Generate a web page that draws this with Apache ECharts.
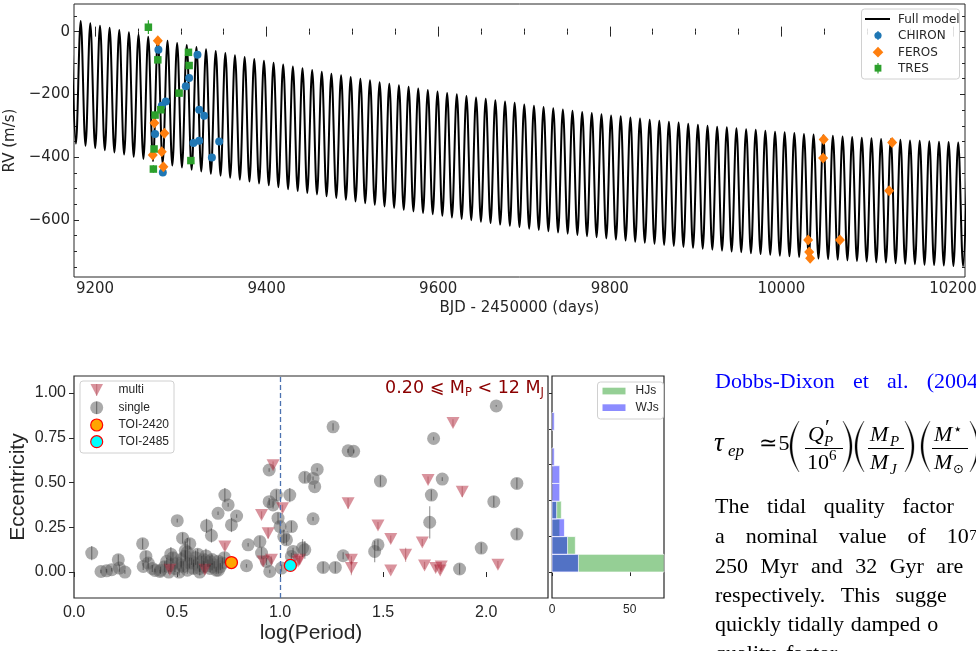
<!DOCTYPE html>
<html><head><meta charset="utf-8">
<script src="https://cdn.jsdelivr.net/npm/echarts@6/dist/echarts.min.js"></script>
<style>html,body{margin:0;padding:0;background:#fff;overflow:hidden}#c{width:976px;height:651px}</style>
</head><body><div id="c"></div>
<script>
// ---------- RV time series (BJD - 2450000, m/s) ----------
const chironT  = [9273.9, 9319.4, 9309.7, 9305.8, 9282.5, 9277.8, 9321.4, 9327.2, 9270.0, 9314.7, 9321.4, 9344.7, 9336.2, 9279.0];
const chironRV = [-58, -74, -148, -174, -223, -236, -249, -268, -326, -355, -348, -350, -401, -449];
const chironErr = [8, 8, 8, 8, 8, 8, 8, 8, 8, 8, 8, 8, 8, 8];
const ferosT  = [9273.2, 9269.2, 9280.9, 9277.8, 9267.3, 9279.7, 10049.3, 10048.6, 10129.1, 10125.6, 10031.2, 10068.2, 10032.4, 10033.5];
const ferosRV = [-29, -291, -324, -383, -393, -431, -344, -403, -353, -507, -664, -664, -702, -722];
const ferosErr = [6, 6, 6, 6, 6, 6, 6, 6, 6, 6, 6, 6, 6, 6];
const tresT  = [9262.2, 9273.2, 9308.9, 9309.7, 9298.0, 9276.7, 9270.0, 9268.8, 9311.7, 9268.0];
const tresRV = [14, -90, -66, -108, -196, -249, -266, -374, -411, -438];
const tresErr = [22, 10, 10, 10, 10, 10, 10, 10, 10, 12];

// Full model: successive maxima and minima of the RV curve (time, RV)
const modelT = [
  9172.1, 9177.7, 9183.3, 9188.9, 9194.5, 9200.2, 9205.8, 9211.4, 9217.0, 9222.6,
  9228.3, 9233.9, 9239.5, 9245.1, 9250.7, 9256.4, 9262.0, 9267.6, 9273.2, 9278.8,
  9284.5, 9290.1, 9295.7, 9301.3, 9306.9, 9312.6, 9318.2, 9323.8, 9329.4, 9335.0,
  9340.7, 9346.3, 9351.9, 9357.5, 9363.1, 9368.8, 9374.4, 9380.0, 9385.6, 9391.2,
  9396.9, 9402.5, 9408.1, 9413.7, 9419.3, 9425.0, 9430.6, 9436.2, 9441.8, 9447.4,
  9453.1, 9458.7, 9464.3, 9469.9, 9475.5, 9481.2, 9486.8, 9492.4, 9498.0, 9503.6,
  9509.3, 9514.9, 9520.5, 9526.1, 9531.7, 9537.4, 9543.0, 9548.6, 9554.2, 9559.8,
  9565.5, 9571.1, 9576.7, 9582.3, 9587.9, 9593.6, 9599.2, 9604.8, 9610.4, 9616.0,
  9621.7, 9627.3, 9632.9, 9638.5, 9644.1, 9649.8, 9655.4, 9661.0, 9666.6, 9672.2,
  9677.9, 9683.5, 9689.1, 9694.7, 9700.3, 9706.0, 9711.6, 9717.2, 9722.8, 9728.4,
  9734.1, 9739.7, 9745.3, 9750.9, 9756.5, 9762.2, 9767.8, 9773.4, 9779.0, 9784.6,
  9790.3, 9795.9, 9801.5, 9807.1, 9812.7, 9818.4, 9824.0, 9829.6, 9835.2, 9840.8,
  9846.5, 9852.1, 9857.7, 9863.3, 9868.9, 9874.6, 9880.2, 9885.8, 9891.4, 9897.0,
  9902.7, 9908.3, 9913.9, 9919.5, 9925.1, 9930.8, 9936.4, 9942.0, 9947.6, 9953.2,
  9958.9, 9964.5, 9970.1, 9975.7, 9981.3, 9987.0, 9992.6, 9998.2, 10003.8, 10009.4,
  10015.1, 10020.7, 10026.3, 10031.9, 10037.5, 10043.2, 10048.8, 10054.4, 10060.0, 10065.6,
  10071.3, 10076.9, 10082.5, 10088.1, 10093.7, 10099.4, 10105.0, 10110.6, 10116.2, 10121.8,
  10127.5, 10133.1, 10138.7, 10144.3, 10149.9, 10155.6, 10161.2, 10166.8, 10172.4, 10178.0,
  10183.7, 10189.3, 10194.9, 10200.5, 10206.1, 10211.8, 10217.4];
const modelRV = [
  41, -357, 34, -364, 27, -371, 19, -378, 12, -385,
  5, -392, -2, -399, -9, -406, -16, -413, -23, -420,
  -29, -427, -36, -433, -43, -440, -49, -446, -56, -453,
  -62, -459, -68, -466, -75, -472, -81, -478, -87, -484,
  -93, -490, -99, -496, -105, -502, -111, -508, -117, -514,
  -122, -519, -128, -525, -134, -530, -139, -536, -145, -541,
  -150, -547, -155, -552, -161, -557, -166, -562, -171, -568,
  -176, -573, -181, -578, -186, -582, -191, -587, -196, -592,
  -200, -597, -205, -601, -210, -606, -214, -610, -219, -615,
  -223, -619, -227, -623, -232, -628, -236, -632, -240, -636,
  -244, -640, -248, -644, -252, -648, -256, -652, -259, -655,
  -263, -659, -267, -663, -270, -666, -274, -670, -277, -673,
  -281, -676, -284, -680, -287, -683, -290, -686, -294, -689,
  -297, -692, -300, -695, -303, -698, -305, -701, -308, -703,
  -311, -706, -313, -709, -316, -711, -319, -714, -321, -716,
  -323, -718, -326, -721, -328, -723, -330, -725, -332, -727,
  -334, -729, -336, -731, -338, -733, -340, -735, -342, -736,
  -343, -738, -345, -740, -347, -741, -348, -743, -349, -744,
  -351, -745, -352, -747, -353, -748, -354];

// ---------- eccentricity vs log(period) ----------
const singleLogP = [0.086,0.131,0.158,0.183,0.215,0.220,0.247,0.333,0.349,0.336,0.393,0.417,0.501,0.527,0.562,0.643,0.667,0.699,0.732,0.748,0.764,0.789,0.845,0.837,0.902,0.910,0.947,0.947,0.966,0.982,0.990,1.000,1.018,1.031,1.047,1.055,1.063,1.120,1.160,1.160,0.950,1.007,0.934,
  2.049,1.257,1.330,1.357,1.745,1.180,1.120,1.168,1.487,1.787,1.734,2.149,2.037,1.726,2.149,1.109,1.475,1.459,1.306,1.976,1.209,1.268,1.871,1.055,
  0.42,0.44,0.45,0.46,0.47,0.48,0.49,0.50,0.51,0.52,0.53,0.54,0.55,0.56,0.57,0.58,0.59,0.60,0.61,0.62,0.63,0.64,0.65,0.66,0.67,0.68,0.69,0.70,0.71,0.72,0.73,0.47,0.55,0.60,0.54,0.58,0.63,0.67,0.38,0.36,0.52,0.61,0.66,0.70];
const singleEcc = [0.106,0.003,0.007,0.013,0.068,0.022,0.000,0.158,0.087,0.031,0.009,0.003,0.287,0.189,0.158,0.258,0.204,0.328,0.430,0.375,0.263,0.313,0.152,0.035,0.170,0.106,0.570,0.393,0.375,0.430,0.301,0.254,0.198,0.180,0.430,0.254,0.115,0.124,0.523,0.297,0.003,0.022,0.059,
  0.928,0.811,0.677,0.674,0.746,0.573,0.529,0.477,0.508,0.519,0.430,0.495,0.393,0.278,0.212,0.134,0.152,0.115,0.091,0.134,0.026,0.026,0.017,0.087,
  0.01,0.03,0.06,0.00,0.04,0.08,0.02,0.05,0.00,0.07,0.03,0.09,0.01,0.05,0.06,0.02,0.08,0.04,0.00,0.06,0.03,0.09,0.05,0.02,0.07,0.04,0.01,0.06,0.03,0.05,0.08,0.10,0.11,0.10,0.12,0.05,0.07,0.03,0.02,0.05,0.04,0.02,0.06,0.01];
const singleErr = [0.04,0.01,0.01,0.01,0.03,0.02,0.01,0.03,0.03,0.02,0.01,0.01,0.01,0.03,0.03,0.04,0.04,0.01,0.04,0.01,0.04,0.01,0.01,0.01,0.03,0.03,0.01,0.02,0.02,0.03,0.03,0.03,0.04,0.03,0.04,0.03,0.02,0.05,0.01,0.01,0.01,0.02,0.02,
  0.005,0.02,0.01,0.01,0.01,0.01,0.03,0.01,0.03,0.01,0.03,0.03,0.03,0.09,0.03,0.05,0.03,0.06,0.02,0.03,0.03,0.03,0.03,0.02,
  0.02,0.03,0.02,0.01,0.04,0.03,0.02,0.03,0.02,0.04,0.03,0.03,0.02,0.03,0.02,0.03,0.04,0.02,0.02,0.03,0.03,0.04,0.02,0.02,0.03,0.02,0.02,0.03,0.02,0.03,0.03,0.04,0.08,0.03,0.05,0.02,0.03,0.02,0.02,0.03,0.02,0.02,0.03,0.02];
const multiLogP = [0.966,1.012,0.910,0.942,0.732,0.918,0.958,0.635,1.087,0.465,1.839,1.330,1.718,1.884,1.475,1.537,1.609,1.690,1.346,1.346,1.537,1.701,1.755,1.782,1.777,2.057,1.095];
const multiEcc  = [0.597,0.356,0.319,0.217,0.143,0.059,0.068,0.013,0.059,0.013,0.833,0.384,0.514,0.449,0.260,0.184,0.096,0.165,0.068,0.022,0.009,0.037,0.022,0.031,0.009,0.041,0.068];
const multiErr  = [0.02,0.02,0.02,0.03,0.02,0.02,0.02,0.02,0.02,0.01,0.02,0.03,0.02,0.03,0.02,0.02,0.04,0.02,0.02,0.04,0.01,0.02,0.02,0.02,0.02,0.02,0.02];
const toi2420 = [0.764, 0.053];
const toi2485 = [1.050, 0.037];

// histogram of eccentricities (bin edges, counts)
const eccBinEdges = [0, 0.099, 0.198, 0.297, 0.396, 0.495, 0.594, 0.693, 0.792, 0.891];
const hjCounts = [72, 15, 5, 6, 0, 0, 0, 0, 0];
const wjCounts = [17, 10, 8, 3, 5, 5, 1.5, 0, 1.5];

// ---------- helpers ----------
const zip = (a, b, c) => a.map((v, i) => c ? [v, b[i], c[i]] : [v, b[i]]);
const minus = v => String(v).replace('-', '\u2212');
const INK = '#262626';

function errorBars(color, width) {
  return function (params, api) {
    const x = api.value(0), y = api.value(1), e = api.value(2);
    const a = api.coord([x, y - e]), b = api.coord([x, y + e]);
    return { type: 'line', shape: { x1: a[0], y1: a[1], x2: b[0], y2: b[1] }, style: { stroke: color, lineWidth: width } };
  };
}
function histBars(fill) {
  return function (params, api) {
    const lo = api.value(0), hi = api.value(1), n = api.value(2);
    if (!n) return null;
    const a = api.coord([0, hi]), b = api.coord([n, lo]);
    return { type: 'rect', shape: { x: a[0], y: a[1], width: b[0] - a[0], height: b[1] - a[1] }, style: { fill: fill, stroke: 'rgba(255,255,255,0.7)', lineWidth: 1 } };
  };
}
const binRows = counts => counts.map((n, i) => [eccBinEdges[i], eccBinEdges[i] + 0.099, n]);

// ---------- axes ----------
const topX = [9200, 9400, 9600, 9800, 10000, 10200];
const topXMinor = []; for (let v = 9200; v <= 10200; v += 50) topXMinor.push(v);
const topY = [-600, -400, -200, 0];
const topYMinor = []; for (let v = -750; v <= 50; v += 50) topYMinor.push(v);
const eccX = [0, 0.5, 1.0, 1.5, 2.0];
const eccY = [0, 0.25, 0.5, 0.75, 1.0];
const histY = [0, 0.2, 0.4, 0.6, 0.8, 1.0];
const histX = [0, 50];

const topFont = { fontFamily: 'DejaVu Sans', fontSize: 15, color: INK };
const sciFont = { fontFamily: 'Liberation Sans', fontSize: 16, color: INK };

function ticksAxis(grid, pos, min, max, values, len, inside, label, extra) {
  return Object.assign({
    type: 'value', gridIndex: grid, position: pos, min: min, max: max,
    axisLine: { show: false }, splitLine: { show: false },
    axisTick: { show: true, inside: inside, length: len, customValues: values, lineStyle: { color: INK, width: 1 } },
    axisLabel: label ? Object.assign({ customValues: values }, label) : { show: false }
  }, extra || {});
}

const xAxes = [
  ticksAxis(0, 'bottom', 9175.5, 10214, topX, 5, true, Object.assign({ margin: 5, formatter: v => String(v) }, topFont), {
    name: 'BJD - 2450000 (days)', nameLocation: 'middle', nameGap: 24, nameTextStyle: topFont }),
  ticksAxis(0, 'bottom', 9175.5, 10214, topXMinor, 3, true, null),
  ticksAxis(0, 'top', 9175.5, 10214, topX, 5, true, null),
  ticksAxis(0, 'top', 9175.5, 10214, topXMinor, 3, true, null),
  ticksAxis(1, 'bottom', 0, 2.3, eccX, 5, false, Object.assign({ margin: 7, formatter: v => v.toFixed(1) }, sciFont), {
    name: 'log(Period)', nameLocation: 'middle', nameGap: 25, nameTextStyle: { fontFamily: 'Liberation Sans', fontSize: 21, color: INK } }),
  ticksAxis(2, 'bottom', 0, 72, histX, 4, false, { margin: 6, fontFamily: 'Liberation Sans', fontSize: 12, color: INK })
];
const yAxes = [
  ticksAxis(0, 'left', -782, 88, topY, 5, true, Object.assign({ margin: 4, formatter: minus }, topFont), {
    name: 'RV (m/s)', nameLocation: 'middle', nameGap: 50, nameTextStyle: topFont }),
  ticksAxis(0, 'left', -782, 88, topYMinor, 3, true, null),
  ticksAxis(0, 'right', -782, 88, topY, 5, true, null),
  ticksAxis(0, 'right', -782, 88, topYMinor, 3, true, null),
  ticksAxis(1, 'left', -0.145, 1.095, eccY, 5, false, Object.assign({ margin: 8, formatter: v => v.toFixed(2) }, sciFont), {
    name: 'Eccentricity', nameLocation: 'middle', nameGap: 45, nameTextStyle: { fontFamily: 'Liberation Sans', fontSize: 21, color: INK } }),
  ticksAxis(2, 'left', -0.145, 1.095, histY, 3, false, null)
];

// ---------- legends and page text ----------
const g = [];
function txt(text, x, y, font, fill, extra) {
  g.push({ type: 'text', z: 100, style: Object.assign({ text: text, x: x, y: y, font: font, fill: fill || '#000', verticalAlign: 'middle' }, extra || {}) });
}
const SINGLE_FILL = 'rgba(100,100,100,0.55)', MULTI_FILL = 'rgba(180,40,60,0.5)';
// top legend
g.push({ type: 'rect', z: 99, shape: { x: 861.5, y: 9, width: 98, height: 70, r: 3 }, style: { fill: 'rgba(255,255,255,0.85)', stroke: '#d0d0d0', lineWidth: 1 } });
g.push({ type: 'line', z: 100, shape: { x1: 865, y1: 19, x2: 890, y2: 19 }, style: { stroke: '#000', lineWidth: 2 } });
g.push({ type: 'circle', z: 100, shape: { cx: 878, cy: 35.5, r: 3.6 }, style: { fill: '#1f77b4' } });
g.push({ type: 'line', z: 100, shape: { x1: 878, y1: 31, x2: 878, y2: 40 }, style: { stroke: '#1f77b4', lineWidth: 1.2 } });
g.push({ type: 'polygon', z: 100, shape: { points: [[878, 46.8], [883.3, 52.2], [878, 57.6], [872.7, 52.2]] }, style: { fill: '#ff7f0e' } });
g.push({ type: 'rect', z: 100, shape: { x: 874.6, y: 64.8, width: 6.8, height: 6.8 }, style: { fill: '#2ca02c' } });
g.push({ type: 'line', z: 100, shape: { x1: 878, y1: 63, x2: 878, y2: 73.5 }, style: { stroke: '#2ca02c', lineWidth: 1.2 } });
txt('Full model', 898, 19.5, '12px DejaVu Sans', INK);
txt('CHIRON', 898, 36, '12px DejaVu Sans', INK);
txt('FEROS', 898, 52.5, '12px DejaVu Sans', INK);
txt('TRES', 898, 69, '12px DejaVu Sans', INK);

// scatter legend
g.push({ type: 'rect', z: 99, shape: { x: 80, y: 381, width: 94, height: 72, r: 3 }, style: { fill: 'rgba(255,255,255,0.85)', stroke: '#d0d0d0', lineWidth: 1 } });
g.push({ type: 'polygon', z: 100, shape: { points: [[90.5, 384], [103, 384], [96.7, 396]] }, style: { fill: MULTI_FILL } });
g.push({ type: 'line', z: 100, shape: { x1: 96.7, y1: 384, x2: 96.7, y2: 396 }, style: { stroke: 'rgba(150,40,50,0.35)', lineWidth: 1 } });
g.push({ type: 'circle', z: 100, shape: { cx: 96.7, cy: 407.7, r: 6.5 }, style: { fill: SINGLE_FILL } });
g.push({ type: 'line', z: 100, shape: { x1: 96.7, y1: 401.5, x2: 96.7, y2: 414 }, style: { stroke: 'rgba(40,40,40,0.55)', lineWidth: 1 } });
g.push({ type: 'circle', z: 100, shape: { cx: 96.7, cy: 425, r: 6 }, style: { fill: '#ffa500', stroke: '#ff0000', lineWidth: 1.2 } });
g.push({ type: 'circle', z: 100, shape: { cx: 96.7, cy: 441.7, r: 6 }, style: { fill: '#00ffff', stroke: '#ff0000', lineWidth: 1.2 } });
txt('multi', 118.5, 390, '12px Liberation Sans', INK);
txt('single', 118.5, 407.7, '12px Liberation Sans', INK);
txt('TOI-2420', 118.5, 425, '12px Liberation Sans', INK);
txt('TOI-2485', 118.5, 441.7, '12px Liberation Sans', INK);

// histogram legend
g.push({ type: 'rect', z: 99, shape: { x: 597.5, y: 382, width: 66, height: 37, r: 3 }, style: { fill: 'rgba(255,255,255,0.85)', stroke: '#d0d0d0', lineWidth: 1 } });
g.push({ type: 'rect', z: 100, shape: { x: 602.5, y: 387.7, width: 23, height: 6.7 }, style: { fill: 'rgba(44,160,44,0.5)' } });
g.push({ type: 'rect', z: 100, shape: { x: 602.5, y: 404.3, width: 23, height: 6.7 }, style: { fill: 'rgba(0,0,255,0.45)' } });
txt('HJs', 635.5, 391, '12px Liberation Sans', INK);
txt('WJs', 635.5, 408, '12px Liberation Sans', INK);

// mass-range tag
g.push({ type: 'text', z: 100, style: { x: 544, y: 388.5, align: 'right', verticalAlign: 'middle', fill: '#8b0000',
  text: '{a|0.20 \u2A7D M}{s|P}{a| < 12 M}{s|J}',
  rich: { a: { fontFamily: 'DejaVu Sans', fontSize: 17.5, fill: '#8b0000' }, s: { fontFamily: 'DejaVu Sans', fontSize: 11.5, fill: '#8b0000', padding: [9, 0, 0, 0] } } } });

// ---------- adjoining manuscript text ----------
const ctx = document.createElement('canvas').getContext('2d');
const SERIF = '22px "Liberation Serif"';
function words(list, x0, gap, base, font, fill) {
  ctx.font = font; let x = x0;
  list.forEach(w => { txt(w, x, base - 7.4, font, fill || '#000'); x += ctx.measureText(w).width + gap; });
  return x - gap;
}
words(['Dobbs-Dixon', 'et', 'al.', '(2004'], 715, 18.2, 390, SERIF, '#0000ff');
words(['The', 'tidal', 'quality', 'factor'], 715, 17.7, 515, SERIF);
let xe = words(['a', 'nominal', 'value', 'of', '10'], 715, 21, 545, SERIF);
txt('7', xe + 0.5, 536, '15px "Liberation Serif"', '#000');
words(['250', 'Myr', 'and', '32', 'Gyr', 'are'], 715, 12.5, 575, SERIF);
words(['respectively.', 'This', 'sugge'], 715, 15.5, 604, SERIF);
words(['quickly', 'tidally', 'damped', 'o'], 715, 6.8, 633, SERIF);
words(['quality', 'factor'], 715, 10, 662, SERIF);

// equation: tau_ep ~ 5 (Q'_P/10^6)(M_P/M_J)(M*/Msun)
const IT = 'italic 22px "Liberation Serif"', ITS = 'italic 15px "Liberation Serif"', RM = '22px "Liberation Serif"';
txt('\u03C4', 714, 444, 'italic 27px "Liberation Serif"'); txt('ep', 728, 452, 'italic 17px "Liberation Serif"');
txt('\u2243', 759, 444, RM); txt('5', 778.5, 444, RM);
function quad(p0, c, p1, n) {
  const out = [];
  for (let i = 0; i <= n; i++) {
    const t = i / n, u = 1 - t;
    out.push([u * u * p0[0] + 2 * u * t * c[0] + t * t * p1[0], u * u * p0[1] + 2 * u * t * c[1] + t * t * p1[1]]);
  }
  return out;
}
function paren(x0, x1, open) {
  // tapered delimiter: thick in the middle, thin at the ends
  const y1 = 421, y2 = 472, ym = (y1 + y2) / 2;
  const tip = open ? x1 : x0, belly = open ? x0 : x1, s = open ? 1 : -1;
  const cOut = 2 * belly - tip, cIn = cOut + s * 4.2;
  const pts = quad([tip, y1], [cOut, ym], [tip, y2], 24).concat(quad([tip, y2], [cIn, ym], [tip, y1], 24));
  g.push({ type: 'polygon', z: 100, shape: { points: pts }, style: { fill: '#000', stroke: '#000', lineWidth: 0.3 } });
}
paren(790, 799, true); paren(843, 852, false); paren(855, 864, true); paren(905, 914, false); paren(921, 930, true); paren(970, 979, false);
const fracBar = (x1, x2) => g.push({ type: 'line', z: 100, shape: { x1: x1, y1: 448.5, x2: x2, y2: 448.5 }, style: { stroke: '#000', lineWidth: 1.1 } });
fracBar(805, 843); fracBar(868, 904); fracBar(932, 968);
txt('Q', 808, 435, IT); txt('\u2032', 825, 428, RM); txt('P', 824, 442, ITS);
txt('10', 807, 463, RM); txt('6', 829, 456, '15px "Liberation Serif"');
txt('M', 870, 435, IT); txt('P', 890, 442, ITS);
txt('M', 870, 463, IT); txt('J', 890, 470, ITS);
txt('M', 934, 435, IT); txt('\u22C6', 953, 430, '15px "DejaVu Sans"');
txt('M', 934, 463, IT); txt('\u2299', 953, 470, '13px "DejaVu Sans"');

// ---------- chart ----------
const chart = echarts.init(document.getElementById('c'), null, { renderer: 'canvas' });
const gridBase = { show: true, borderColor: INK, backgroundColor: 'transparent', containLabel: false, outerBoundsMode: 'none' };
chart.setOption({
  animation: false,
  backgroundColor: '#fff',
  grid: [
    Object.assign({ left: 74, top: 4, width: 891, height: 273, borderWidth: 1 }, gridBase),
    Object.assign({ left: 74, top: 376, width: 474, height: 222, borderWidth: 1.2 }, gridBase),
    Object.assign({ left: 552, top: 376, width: 112, height: 222, borderWidth: 1.2 }, gridBase)
  ],
  xAxis: xAxes,
  yAxis: yAxes,
  graphic: g,
  series: [
    { name: 'Full model', type: 'line', xAxisIndex: 0, yAxisIndex: 0, data: zip(modelT, modelRV), showSymbol: false, clip: true,
      smooth: 0.36, lineStyle: { color: '#000', width: 2 }, z: 2 },
    { type: 'custom', xAxisIndex: 0, yAxisIndex: 0, data: zip(chironT, chironRV, chironErr), renderItem: errorBars('#1f77b4', 1.2), z: 3 },
    { type: 'custom', xAxisIndex: 0, yAxisIndex: 0, data: zip(ferosT, ferosRV, ferosErr), renderItem: errorBars('#ff7f0e', 1.2), z: 3 },
    { type: 'custom', xAxisIndex: 0, yAxisIndex: 0, data: zip(tresT, tresRV, tresErr), renderItem: errorBars('#2ca02c', 1.2), z: 3 },
    { name: 'CHIRON', type: 'scatter', xAxisIndex: 0, yAxisIndex: 0, data: zip(chironT, chironRV), symbol: 'circle', symbolSize: 8, itemStyle: { color: '#1f77b4', opacity: 1 }, z: 4 },
    { name: 'FEROS', type: 'scatter', xAxisIndex: 0, yAxisIndex: 0, data: zip(ferosT, ferosRV), symbol: 'diamond', symbolSize: [10, 11], itemStyle: { color: '#ff7f0e', opacity: 1 }, z: 4 },
    { name: 'TRES', type: 'scatter', xAxisIndex: 0, yAxisIndex: 0, data: zip(tresT, tresRV), symbol: 'rect', symbolSize: 7.5, itemStyle: { color: '#2ca02c', opacity: 1 }, z: 4 },

    { name: 'single', type: 'scatter', xAxisIndex: 4, yAxisIndex: 4, data: zip(singleLogP, singleEcc), symbol: 'circle', symbolSize: 13,
      itemStyle: { color: SINGLE_FILL, opacity: 1 }, z: 3 },
    { type: 'custom', xAxisIndex: 4, yAxisIndex: 4, data: zip(singleLogP, singleEcc, singleErr), renderItem: errorBars('rgba(40,40,40,0.45)', 1.2), z: 4 },
    { name: 'multi', type: 'scatter', xAxisIndex: 4, yAxisIndex: 4, data: zip(multiLogP, multiEcc), symbol: 'triangle', symbolRotate: 180, symbolSize: [13, 12],
      itemStyle: { color: MULTI_FILL, opacity: 1 }, z: 3 },
    { type: 'custom', xAxisIndex: 4, yAxisIndex: 4, data: zip(multiLogP, multiEcc, multiErr), renderItem: errorBars('rgba(150,40,50,0.35)', 1.2), z: 4 },
    { name: 'TOI-2420', type: 'scatter', xAxisIndex: 4, yAxisIndex: 4, data: [toi2420], symbol: 'circle', symbolSize: 12,
      itemStyle: { color: '#ffa500', borderColor: '#ff0000', borderWidth: 1.3, opacity: 1 }, z: 6 },
    { name: 'TOI-2485', type: 'scatter', xAxisIndex: 4, yAxisIndex: 4, data: [toi2485], symbol: 'circle', symbolSize: 12,
      itemStyle: { color: '#00ffff', borderColor: '#ff0000', borderWidth: 1.3, opacity: 1 }, z: 6,
      markLine: { silent: true, symbol: 'none', label: { show: false }, lineStyle: { color: '#4c72b0', type: [5, 3], width: 1.3 }, data: [{ xAxis: 1 }] } },

    { name: 'HJs', type: 'custom', xAxisIndex: 5, yAxisIndex: 5, data: binRows(hjCounts), renderItem: histBars('rgba(44,160,44,0.5)'), z: 2 },
    { name: 'WJs', type: 'custom', xAxisIndex: 5, yAxisIndex: 5, data: binRows(wjCounts), renderItem: histBars('rgba(0,0,255,0.45)'), z: 3 }
  ]
});
</script>
</body></html>
